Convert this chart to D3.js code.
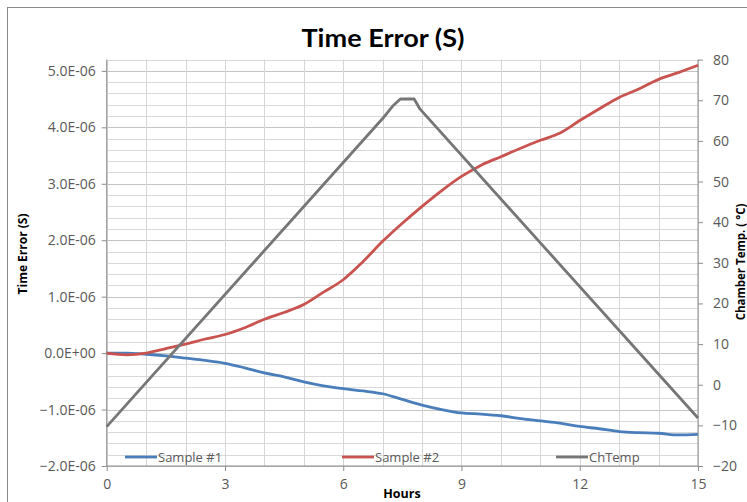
<!DOCTYPE html>
<html><head><meta charset="utf-8">
<script src="https://cdn.jsdelivr.net/npm/d3@7"></script>
<style>html,body{margin:0;padding:0;background:#fff;overflow:hidden}</style>
</head><body>
<svg id="c" width="747" height="502"></svg>
<script>
const hours = [0,0.5,1,1.5,2,2.5,3,3.5,4,4.5,5,5.5,6,6.5,7,7.5,8,8.5,9,9.5,10,10.5,11,11.5,12,12.5,13,13.5,14,14.5,15];
const sample1 = [0,0.0,-0.02e-6,-0.05e-6,-0.09e-6,-0.13e-6,-0.18e-6,-0.26e-6,-0.35e-6,-0.42e-6,-0.51e-6,-0.58e-6,-0.63e-6,-0.67e-6,-0.72e-6,-0.82e-6,-0.92e-6,-1.00e-6,-1.06e-6,-1.08e-6,-1.11e-6,-1.16e-6,-1.20e-6,-1.24e-6,-1.30e-6,-1.34e-6,-1.39e-6,-1.41e-6,-1.42e-6,-1.45e-6,-1.44e-6];
const sample2 = [0,-0.03e-6,0.0,0.08e-6,0.16e-6,0.25e-6,0.33e-6,0.45e-6,0.60e-6,0.72e-6,0.86e-6,1.08e-6,1.30e-6,1.62e-6,1.98e-6,2.30e-6,2.60e-6,2.88e-6,3.13e-6,3.33e-6,3.48e-6,3.63e-6,3.77e-6,3.90e-6,4.12e-6,4.33e-6,4.53e-6,4.68e-6,4.85e-6,4.97e-6,5.10e-6];
const tempHours = [0,7.0,7.25,7.45,7.8,7.95,15];
const chTemp = [-10.3,65.5,68.5,70.3,70.3,67.8,-8.2];
const xTicks = [0,3,6,9,12,15];
const leftTicks = [-2e-6,-1e-6,0,1e-6,2e-6,3e-6,4e-6,5e-6];
const rightTicks = [-20,-10,0,10,20,30,40,50,60,70,80];
const seriesNames = ["Sample #1","Sample #2","ChTemp"];
const colors = ["#4A7EBB","#C9534F","#767676"];

const svg = d3.select("#c");
const L = 106.7, R = 698, T = 59.6, B = 466;
const x = d3.scaleLinear().domain([0,15]).range([L,R]);
const yl = d3.scaleLinear().domain([-2e-6,5.2e-6]).range([B,T]);
const yr = d3.scaleLinear().domain([-20,80]).range([B,T]);
const font = "'Open Sans', sans-serif";

// outer border
svg.append("rect").attr("x",7.5).attr("y",7.5).attr("width",800).attr("height",600)
  .attr("fill","none").attr("stroke","#8a8a8a").attr("stroke-width",1);

// title
svg.append("text").attr("x",383).attr("y",47).attr("text-anchor","middle")
  .attr("font-family","Lato, sans-serif").attr("font-weight","bold").attr("font-size",25)
  .attr("textLength",163).attr("lengthAdjust","spacingAndGlyphs").attr("fill","#000").text("Time Error (S)");

// grid
const g = svg.append("g");
const minor = d3.range(0,37).map(i => -2e-6 + i*0.2e-6);
g.selectAll(".hm").data(minor).join("line")
  .attr("x1",L).attr("x2",R).attr("y1",d=>Math.round(yl(d))+0.5).attr("y2",d=>Math.round(yl(d))+0.5)
  .attr("stroke",(d,i)=> i%5===0 ? "#c4c4c4" : "#d9d9d9").attr("stroke-width",1);
g.selectAll(".vm").data(d3.range(0,16)).join("line")
  .attr("y1",T).attr("y2",B).attr("x1",d=>Math.round(x(d))+0.5).attr("x2",d=>Math.round(x(d))+0.5)
  .attr("stroke","#d6d6d6").attr("stroke-width",1);

// axes
function fmtE(v){
  if (Math.abs(v) < 1e-15) return "0.0E+00";
  const s = d3.format(".1e")(v);
  const [m,e] = s.split("e");
  const sign = e[0]==="-" ? "-" : "+";
  const n = Math.abs(parseInt(e,10));
  return m + "E" + sign + (n<10?"0":"") + n;
}
const axL = svg.append("g").attr("transform",`translate(${L},0)`)
  .call(d3.axisLeft(yl).tickValues(leftTicks).tickFormat(fmtE).tickSize(5).tickPadding(6));
const axR = svg.append("g").attr("transform",`translate(${R},0)`)
  .call(d3.axisRight(yr).tickValues(rightTicks).tickFormat(d3.format("d")).tickSize(5).tickPadding(10));
const axB = svg.append("g").attr("transform",`translate(0,${B})`)
  .call(d3.axisBottom(x).tickValues(xTicks).tickFormat(d3.format("d")).tickSize(5).tickPadding(8));
[axL,axR,axB].forEach(a=>{
  a.select(".domain").attr("stroke","#8c8c8c");
  a.selectAll(".tick line").attr("stroke","#8c8c8c");
  a.selectAll(".tick text").attr("font-family",font).attr("font-size",14).attr("fill","#595959");
});
axL.select(".domain").attr("d",`M-0,${B}V${T}`);
axR.select(".domain").attr("d",`M0,${B}V${T}`);
axB.select(".domain").attr("d",`M${L},0H${R}`);

// axis titles
svg.append("text").attr("transform",`translate(27,254) rotate(-90)`).attr("text-anchor","middle")
  .attr("font-family",font).attr("font-weight","bold").attr("font-size",12).attr("fill","#000").text("Time Error (S)");
svg.append("text").attr("transform",`translate(745,262) rotate(-90)`).attr("text-anchor","middle")
  .attr("font-family",font).attr("font-weight","bold").attr("font-size",11.5).attr("fill","#000").text("Chamber Temp. ( °C)");
svg.append("text").attr("x",402).attr("y",498).attr("text-anchor","middle")
  .attr("font-family",font).attr("font-weight","bold").attr("font-size",12.5).attr("fill","#000").text("Hours");

// lines
const lineL = d3.line().x(d=>x(d[0])).y(d=>yl(d[1])).curve(d3.curveMonotoneX);
const lineR = d3.line().x(d=>x(d[0])).y(d=>yr(d[1]));
svg.append("path").datum(hours.map((h,i)=>[h,sample1[i]])).attr("d",lineL)
  .attr("fill","none").attr("stroke",colors[0]).attr("stroke-width",2.8);
svg.append("path").datum(hours.map((h,i)=>[h,sample2[i]])).attr("d",lineL)
  .attr("fill","none").attr("stroke",colors[1]).attr("stroke-width",2.8);
svg.append("path").datum(tempHours.map((h,i)=>[h,chTemp[i]])).attr("d",lineR)
  .attr("fill","none").attr("stroke",colors[2]).attr("stroke-width",2.8).attr("stroke-linejoin","round");

// legend
const legX = [125,342,556];
const lg = svg.append("g");
seriesNames.forEach((n,i)=>{
  lg.append("line").attr("x1",legX[i]).attr("x2",legX[i]+32).attr("y1",457).attr("y2",457)
    .attr("stroke",colors[i]).attr("stroke-width",2.8);
  lg.append("text").attr("x",legX[i]+33).attr("y",462).attr("font-family",font).attr("font-size",13)
    .attr("fill","#595959").text(n);
});
</script>
</body></html>
